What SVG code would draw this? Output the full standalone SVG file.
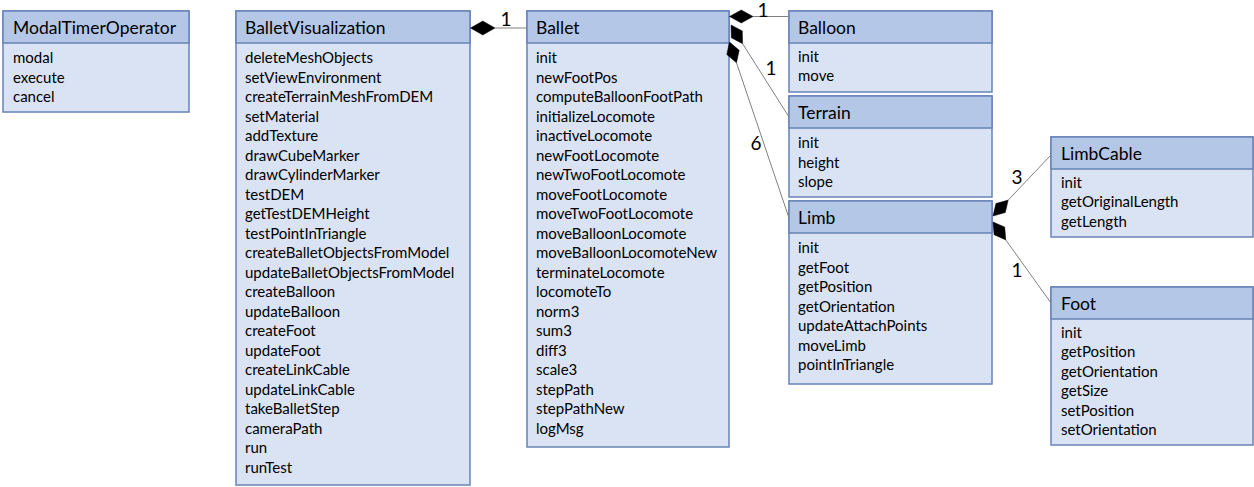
<svg xmlns="http://www.w3.org/2000/svg" width="1254" height="487" viewBox="0 0 1254 487">
<style>
.body{fill:#dae3f3;stroke:#6783b6;stroke-width:1.5}
.head{fill:#b4c7e7;stroke:#6783b6;stroke-width:1.5}
.t{font-family:Lato,"Liberation Sans",sans-serif;font-size:17.5px;fill:#000}
.i{font-family:Lato,"Liberation Sans",sans-serif;font-size:15px;fill:#000}
.lbl{font-family:Lato,"Liberation Sans",sans-serif;font-size:19px;fill:#000;text-anchor:middle}
.ln{stroke:#808080;stroke-width:1;fill:none}
.dm{fill:#000;stroke:#000;stroke-width:0.5}
</style>
<rect width="1254" height="487" fill="#fff"/>
<g id="ModalTimerOperator">
<rect class="body" x="3" y="11" width="186" height="101"/>
<rect class="head" x="3" y="11" width="186" height="32"/>
<text class="t" x="13" y="34">ModalTimerOperator</text>
<text class="i" x="13" y="63">modal</text>
<text class="i" x="13" y="82.5">execute</text>
<text class="i" x="13" y="102">cancel</text>
</g>
<g id="BalletVisualization">
<rect class="body" x="236" y="11" width="234" height="474"/>
<rect class="head" x="236" y="11" width="234" height="32"/>
<text class="t" x="245" y="34">BalletVisualization</text>
<text class="i" x="245" y="63">deleteMeshObjects</text>
<text class="i" x="245" y="82.5">setViewEnvironment</text>
<text class="i" x="245" y="102">createTerrainMeshFromDEM</text>
<text class="i" x="245" y="121.5">setMaterial</text>
<text class="i" x="245" y="141">addTexture</text>
<text class="i" x="245" y="160.5">drawCubeMarker</text>
<text class="i" x="245" y="180">drawCylinderMarker</text>
<text class="i" x="245" y="199.5">testDEM</text>
<text class="i" x="245" y="219">getTestDEMHeight</text>
<text class="i" x="245" y="238.5">testPointInTriangle</text>
<text class="i" x="245" y="258">createBalletObjectsFromModel</text>
<text class="i" x="245" y="277.5">updateBalletObjectsFromModel</text>
<text class="i" x="245" y="297">createBalloon</text>
<text class="i" x="245" y="316.5">updateBalloon</text>
<text class="i" x="245" y="336">createFoot</text>
<text class="i" x="245" y="355.5">updateFoot</text>
<text class="i" x="245" y="375">createLinkCable</text>
<text class="i" x="245" y="394.5">updateLinkCable</text>
<text class="i" x="245" y="414">takeBalletStep</text>
<text class="i" x="245" y="433.5">cameraPath</text>
<text class="i" x="245" y="453">run</text>
<text class="i" x="245" y="472.5">runTest</text>
</g>
<g id="Ballet">
<rect class="body" x="527" y="11" width="202" height="436"/>
<rect class="head" x="527" y="11" width="202" height="32"/>
<text class="t" x="536" y="34">Ballet</text>
<text class="i" x="536" y="63">init</text>
<text class="i" x="536" y="82.5">newFootPos</text>
<text class="i" x="536" y="102">computeBalloonFootPath</text>
<text class="i" x="536" y="121.5">initializeLocomote</text>
<text class="i" x="536" y="141">inactiveLocomote</text>
<text class="i" x="536" y="160.5">newFootLocomote</text>
<text class="i" x="536" y="180">newTwoFootLocomote</text>
<text class="i" x="536" y="199.5">moveFootLocomote</text>
<text class="i" x="536" y="219">moveTwoFootLocomote</text>
<text class="i" x="536" y="238.5">moveBalloonLocomote</text>
<text class="i" x="536" y="258">moveBalloonLocomoteNew</text>
<text class="i" x="536" y="277.5">terminateLocomote</text>
<text class="i" x="536" y="297">locomoteTo</text>
<text class="i" x="536" y="316.5">norm3</text>
<text class="i" x="536" y="336">sum3</text>
<text class="i" x="536" y="355.5">diff3</text>
<text class="i" x="536" y="375">scale3</text>
<text class="i" x="536" y="394.5">stepPath</text>
<text class="i" x="536" y="414">stepPathNew</text>
<text class="i" x="536" y="433.5">logMsg</text>
</g>
<g id="Balloon">
<rect class="body" x="789" y="11" width="203" height="81"/>
<rect class="head" x="789" y="11" width="203" height="32"/>
<text class="t" x="798" y="34">Balloon</text>
<text class="i" x="798" y="62">init</text>
<text class="i" x="798" y="81">move</text>
</g>
<g id="Terrain">
<rect class="body" x="789" y="96" width="203" height="101"/>
<rect class="head" x="789" y="96" width="203" height="32"/>
<text class="t" x="798" y="119">Terrain</text>
<text class="i" x="798" y="148">init</text>
<text class="i" x="798" y="167.5">height</text>
<text class="i" x="798" y="187">slope</text>
</g>
<g id="Limb">
<rect class="body" x="789" y="201" width="203" height="183"/>
<rect class="head" x="789" y="201" width="203" height="32"/>
<text class="t" x="798" y="224">Limb</text>
<text class="i" x="798" y="253">init</text>
<text class="i" x="798" y="272.5">getFoot</text>
<text class="i" x="798" y="292">getPosition</text>
<text class="i" x="798" y="311.5">getOrientation</text>
<text class="i" x="798" y="331">updateAttachPoints</text>
<text class="i" x="798" y="350.5">moveLimb</text>
<text class="i" x="798" y="370">pointInTriangle</text>
</g>
<g id="LimbCable">
<rect class="body" x="1051" y="137" width="202" height="100"/>
<rect class="head" x="1051" y="137" width="202" height="32"/>
<text class="t" x="1061" y="160">LimbCable</text>
<text class="i" x="1061" y="187.5">init</text>
<text class="i" x="1061" y="207">getOriginalLength</text>
<text class="i" x="1061" y="226.5">getLength</text>
</g>
<g id="Foot">
<rect class="body" x="1051" y="287" width="202" height="158"/>
<rect class="head" x="1051" y="287" width="202" height="32"/>
<text class="t" x="1061" y="310">Foot</text>
<text class="i" x="1061" y="337.5">init</text>
<text class="i" x="1061" y="357">getPosition</text>
<text class="i" x="1061" y="376.5">getOrientation</text>
<text class="i" x="1061" y="396">getSize</text>
<text class="i" x="1061" y="415.5">setPosition</text>
<text class="i" x="1061" y="435">setOrientation</text>
</g>
<g id="connectors">
<line class="ln" x1="495" y1="28" x2="527" y2="28"/>
<polygon class="dm" points="470.5,28 482.75,21 495,28 482.75,35"/>
<text class="lbl" x="506" y="26">1</text>
<line class="ln" x1="753" y1="16.5" x2="789" y2="16.5"/>
<polygon class="dm" points="729.5,16.5 741.25,10 753,16.5 741.25,23"/>
<text class="lbl" x="763" y="17">1</text>
<line class="ln" x1="742.6" y1="43.7" x2="789" y2="117"/>
<polygon class="dm" points="731,25 742.3,30.9 742.6,43.7 731.3,37.8"/>
<text class="lbl" x="771" y="75">1</text>
<line class="ln" x1="736.5" y1="62.8" x2="789" y2="218"/>
<polygon class="dm" points="729.5,42 739.2,50.3 736.5,62.8 726.8,54.5"/>
<text class="lbl" x="756" y="150">6</text>
<line class="ln" x1="1008.2" y1="200.1" x2="1051" y2="155"/>
<polygon class="dm" points="993,216 995.9,203.5 1008.2,200.1 1005.3,212.5"/>
<text class="lbl" x="1017" y="184">3</text>
<line class="ln" x1="1005.8" y1="239.9" x2="1051" y2="303"/>
<polygon class="dm" points="993,222 1004.7,227.1 1005.8,239.9 994.1,234.7"/>
<text class="lbl" x="1017" y="277">1</text>
</g>
</svg>
